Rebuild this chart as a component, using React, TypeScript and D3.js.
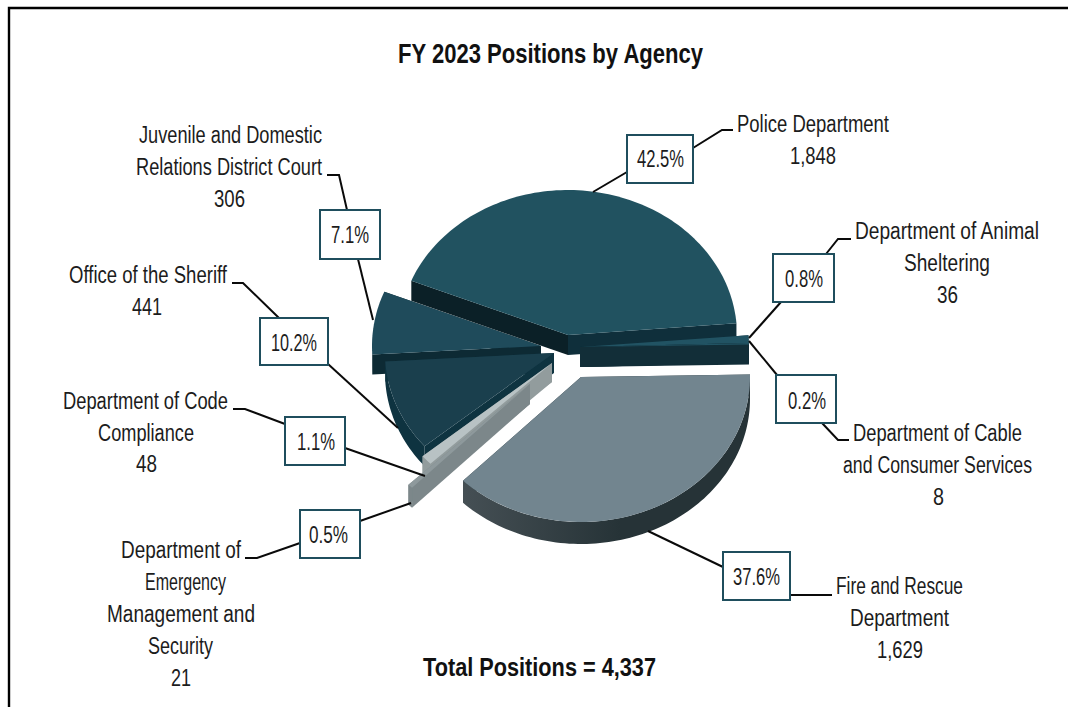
import React from "react";
import * as d3 from "d3";

// ---- data ----
const categories = [
  "Police Department",
  "Department of Animal Sheltering",
  "Department of Cable and Consumer Services",
  "Fire and Rescue Department",
  "Department of Emergency Management and Security",
  "Department of Code Compliance",
  "Office of the Sheriff",
  "Juvenile and Domestic Relations District Court",
];
const positions = [1848, 36, 8, 1629, 21, 48, 441, 306];
const percents = ["42.5%", "0.8%", "0.2%", "37.6%", "0.5%", "1.1%", "10.2%", "7.1%"];
const chartTitle = "FY 2023 Positions by Agency";
const totalLabel = "Total Positions = 4,337";

// ---- layout ----
const W = 1068, H = 707;
const RX = 169, RY = 145;
const DEG = Math.PI / 180;
const START = -68 * DEG;
const centers: [number, number, number][] = [
  [568, 335, 20], [580, 347, 20], [580, 347, 20], [581, 377, 22],
  [530, 384, 20], [552, 363, 19], [554, 353, 20], [541, 346, 20],
];
const tops = ["#215260", "#215363", "#215363", "#72858f", "#8e999c", "#b8c2c4", "#1a3f4d", "#1f4b5b"];
const wallStart = ["#0b2027", "#122e38", "#122e38", "#263337", "#7c878a", "#929c9d", "#0e3340", "#0d2a34"];
const wallEnd = ["#0f2f3b", "#122e38", "#122e38", "#263337", "#7c878a", "#929c9d", "#0e3340", "#0d2a34"];
const wallOuter = ["#0f2f3b", "#122e38", "#122e38", "url(#fireWall)", "#7c878a", "#929c9d", "#0e3340", "#0d2a34"];
const drawOrder = [7, 6, 5, 4, 0, 1, 2, 3];

type Line = [string, number, number, number]; // text, left x, baseline, width
const labelLines: Line[] = [
  ["Police Department", 737, 132, 152], ["1,848", 790, 164, 46],
  ["Department of Animal", 855, 239, 184], ["Sheltering", 904, 271, 86], ["36", 937, 303, 21],
  ["Department of Cable", 853, 441, 169], ["and Consumer Services", 843, 473, 189], ["8", 933, 505, 11],
  ["Fire and Rescue", 836, 594, 127], ["Department", 850, 626, 99], ["1,629", 877, 658, 46],
  ["Department of", 121, 558, 120], ["Emergency", 145, 590, 81], ["Management and", 107, 622, 148], ["Security", 148, 654, 65], ["21", 171, 686, 20],
  ["Department of Code", 63, 409, 165], ["Compliance", 98, 441, 96], ["48", 136, 472, 21],
  ["Office of the Sheriff", 69, 283, 158], ["441", 132, 315, 30],
  ["Juvenile and Domestic", 139, 143, 183], ["Relations District Court", 136, 175, 186], ["306", 214, 207, 31],
];

// box x, y, w, h, text left, baseline, text width (same order as categories)
const boxes = [
  [627, 135, 66, 48, 637, 167, 47],
  [773, 254, 61, 48, 785, 287, 38],
  [776, 375, 60, 48, 788, 409, 38],
  [723, 552, 67, 48, 733, 585, 47],
  [300, 510, 60, 48, 309, 543, 39],
  [285, 417, 60, 48, 297, 450, 38],
  [260, 318, 68, 47, 271, 351, 46],
  [320, 210, 60, 49, 331, 243, 38],
];

const leaders: [number, number][][] = [
  [[593, 192], [627, 172]], [[693, 148], [722, 130], [733, 130]],
  [[749, 338], [781, 302]], [[826, 254], [838, 239], [851, 239]],
  [[749, 341], [777, 375]], [[822, 423], [838, 440], [849, 440]],
  [[648, 531], [723, 567]], [[790, 595], [832, 595]],
  [[411, 503], [360, 521]], [[300, 543], [257, 558], [245, 558]],
  [[425, 476], [345, 448]], [[285, 424], [245, 409], [233, 409]],
  [[398, 428], [328, 364]], [[279, 318], [243, 283], [232, 283]],
  [[373, 320], [358, 259]], [[347, 210], [339, 175], [327, 175]],
];

// ---- scales and shapes ----
const ux = d3.scaleLinear().domain([-1, 1]).range([-RX, RX]);
const uy = d3.scaleLinear().domain([-1, 1]).range([RY, -RY]);
const pie = d3.pie<number>().sort(null).startAngle(START).endAngle(START + 2 * Math.PI);
const arcs = pie(positions);
const pathOf = d3.line();

const rim = (i: number, a0: number, a1: number, dy = 0): [number, number][] => {
  const [cx, cy] = centers[i];
  const n = Math.max(2, Math.ceil(Math.abs(a1 - a0) / (1.5 * DEG)));
  return d3.range(n + 1).map((k) => {
    const a = a0 + ((a1 - a0) * k) / n;
    return [cx + ux(Math.sin(a)), cy + uy(Math.cos(a)) + dy] as [number, number];
  });
};
const radialWall = (i: number, a: number): string => {
  const [cx, cy, d] = centers[i];
  const e = rim(i, a, a)[0];
  return pathOf([[cx, cy], e, [e[0], e[1] + d], [cx, cy + d]])! + "Z";
};
const outerWall = (i: number, a0: number, a1: number): string | null => {
  const lo = Math.max(a0, 90 * DEG), hi = Math.min(a1, 270 * DEG);
  if (hi <= lo) return null;
  const d = centers[i][2];
  return pathOf([...rim(i, lo, hi), ...rim(i, lo, hi, d).reverse()])! + "Z";
};
const topFace = (i: number, a0: number, a1: number): string => {
  const [cx, cy] = centers[i];
  return pathOf([[cx, cy], ...rim(i, a0, a1)])! + "Z";
};

const textFill = "#1c1c1c";
const narrow = "'Liberation Sans Narrow','Liberation Sans',sans-serif";

export default function App() {
  return (
    <svg
      width={W}
      height={H}
      viewBox={`0 0 ${W} ${H}`}
      style={{ position: "fixed", left: 0, top: 0, background: "#fff" }}
    >
      <defs>
        <linearGradient id="fireWall" gradientUnits="userSpaceOnUse" x1={464} x2={620} y1={0} y2={0}>
          <stop offset="0" stopColor="#454f54" />
          <stop offset="1" stopColor="#263337" />
        </linearGradient>
      </defs>

      <path d={`M9 ${H}V8H${W}`} fill="none" stroke="#000" strokeWidth={2.4} />

      <text x={398} y={63} textLength={305} lengthAdjust="spacingAndGlyphs" fontFamily={narrow} fontWeight={700} fontSize={28} fill="#111">
        {chartTitle}
      </text>
      <text x={423} y={676} textLength={233} lengthAdjust="spacingAndGlyphs" fontFamily={narrow} fontWeight={700} fontSize={26} fill="#111">
        {totalLabel}
      </text>

      {drawOrder.map((i) => {
        const { startAngle: a0, endAngle: a1 } = arcs[i];
        const outer = outerWall(i, a0, a1);
        return (
          <g key={categories[i]}>
            <path d={radialWall(i, a1)} fill={wallEnd[i]} />
            <path d={radialWall(i, a0)} fill={wallStart[i]} />
            {outer && <path d={outer} fill={wallOuter[i]} />}
            <path d={topFace(i, a0, a1)} fill={tops[i]} />
          </g>
        );
      })}

      {leaders.map((pts, i) => (
        <path key={i} d={pathOf(pts)!} fill="none" stroke="#0a0a0a" strokeWidth={2} />
      ))}

      {boxes.map((b, i) => (
        <g key={percents[i]}>
          <rect x={b[0]} y={b[1]} width={b[2]} height={b[3]} fill="#fff" stroke="#1f4e5d" strokeWidth={2} />
          <text x={b[4]} y={b[5]} textLength={b[6]} lengthAdjust="spacingAndGlyphs" fontFamily={narrow} fontSize={23} fill={textFill}>
            {percents[i]}
          </text>
        </g>
      ))}

      {labelLines.map(([t, x, y, w], i) => (
        <text key={i} x={x} y={y} textLength={w} lengthAdjust="spacingAndGlyphs" fontFamily={narrow} fontSize={23} fill={textFill}>
          {t}
        </text>
      ))}
    </svg>
  );
}
